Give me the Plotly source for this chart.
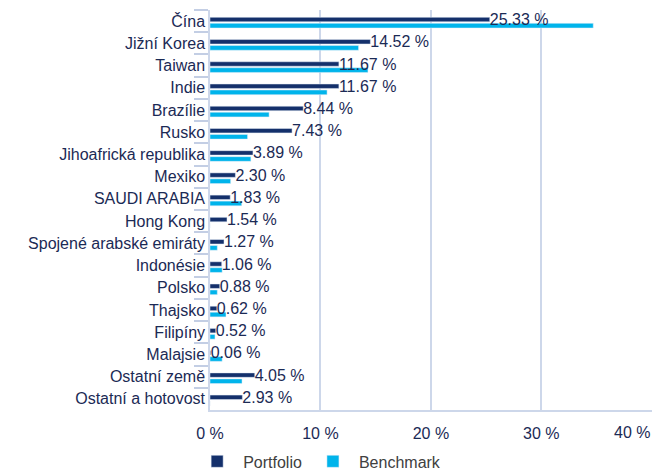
import plotly.graph_objects as go

categories = ["Čína", "Jižní Korea", "Taiwan", "Indie", "Brazílie", "Rusko",
              "Jihoafrická republika", "Mexiko", "SAUDI ARABIA", "Hong Kong",
              "Spojené arabské emiráty", "Indonésie", "Polsko", "Thajsko",
              "Filipíny", "Malajsie", "Ostatní země", "Ostatní a hotovost"]
portfolio = [25.33, 14.52, 11.67, 11.67, 8.44, 7.43, 3.89, 2.30, 1.83, 1.54,
             1.27, 1.06, 0.88, 0.62, 0.52, 0.06, 4.05, 2.93]
benchmark = [34.7, 13.45, 14.3, 10.6, 5.35, 3.4, 3.7, 1.87, 2.87, 0.0,
             0.66, 1.1, 0.66, 1.45, 0.45, 1.1, 2.9, 0.0]
labels = [f"{v:.2f} %" for v in portfolio]
x_ticks = [0, 10, 20, 30, 40]
x_tick_text = ["0 %", "10 %", "20 %", "30 %", "40 %"]

NAVY = "#14306b"
CYAN = "#00b4eb"
TXT = "#1b2a55"
GRID = "#cdd7ea"
FONT = "Liberation Sans, Arial, sans-serif"

fig = go.Figure()
fig.add_trace(go.Bar(name="Portfolio", y=categories, x=portfolio, orientation="h",
                     marker_color=NAVY, width=0.2, offset=-0.17))
fig.add_trace(go.Bar(name="Benchmark", y=categories, x=benchmark, orientation="h",
                     marker_color=CYAN, width=0.21, offset=0.1))
fig.add_trace(go.Scatter(y=categories, x=portfolio, mode="text", text=labels,
                         textposition="middle right", showlegend=False,
                         textfont=dict(size=16, color=TXT, family=FONT),
                         hoverinfo="skip", cliponaxis=False))

# last tick label is right-aligned to the plot edge (as in the reference)
tick_text_shown = x_tick_text[:-1] + [""]
fig.add_annotation(x=x_ticks[-1], xref="x", xanchor="right",
                   y=0, yref="paper", yanchor="top", yshift=-12,
                   text=x_tick_text[-1], showarrow=False,
                   font=dict(size=16, color=TXT, family=FONT))

fig.update_layout(
    width=666, height=472,
    margin=dict(l=210, r=14, t=10, b=62, autoexpand=False),
    barmode="overlay",
    plot_bgcolor="white", paper_bgcolor="white",
    font=dict(family=FONT, size=16, color=TXT),
    legend=dict(orientation="h", xref="container", x=0.287, xanchor="left",
                yref="paper", y=-0.086, yanchor="top", itemwidth=42,
                font=dict(size=16, color="#404040"), traceorder="normal"),
    xaxis=dict(range=[0, 40.02], tickvals=x_ticks, ticktext=tick_text_shown,
               showgrid=True, gridcolor=GRID, gridwidth=1.5, zeroline=False,
               showline=True, linecolor=GRID, linewidth=2,
               ticks="", ticklabelstandoff=8, automargin=False,
               tickfont=dict(size=16, color=TXT)),
    yaxis=dict(range=[17.5, -0.5], showgrid=False, showline=True,
               linecolor=GRID, linewidth=1.5, ticks="outside", tickson="boundaries",
               ticklen=14, tickcolor="#c3cee4", tickwidth=1.5, automargin=False,
               tickfont=dict(size=16, color=TXT)),
)
fig.write_html("out.html", config={"displayModeBar": False},
               post_script="document.body.style.margin='0';")
